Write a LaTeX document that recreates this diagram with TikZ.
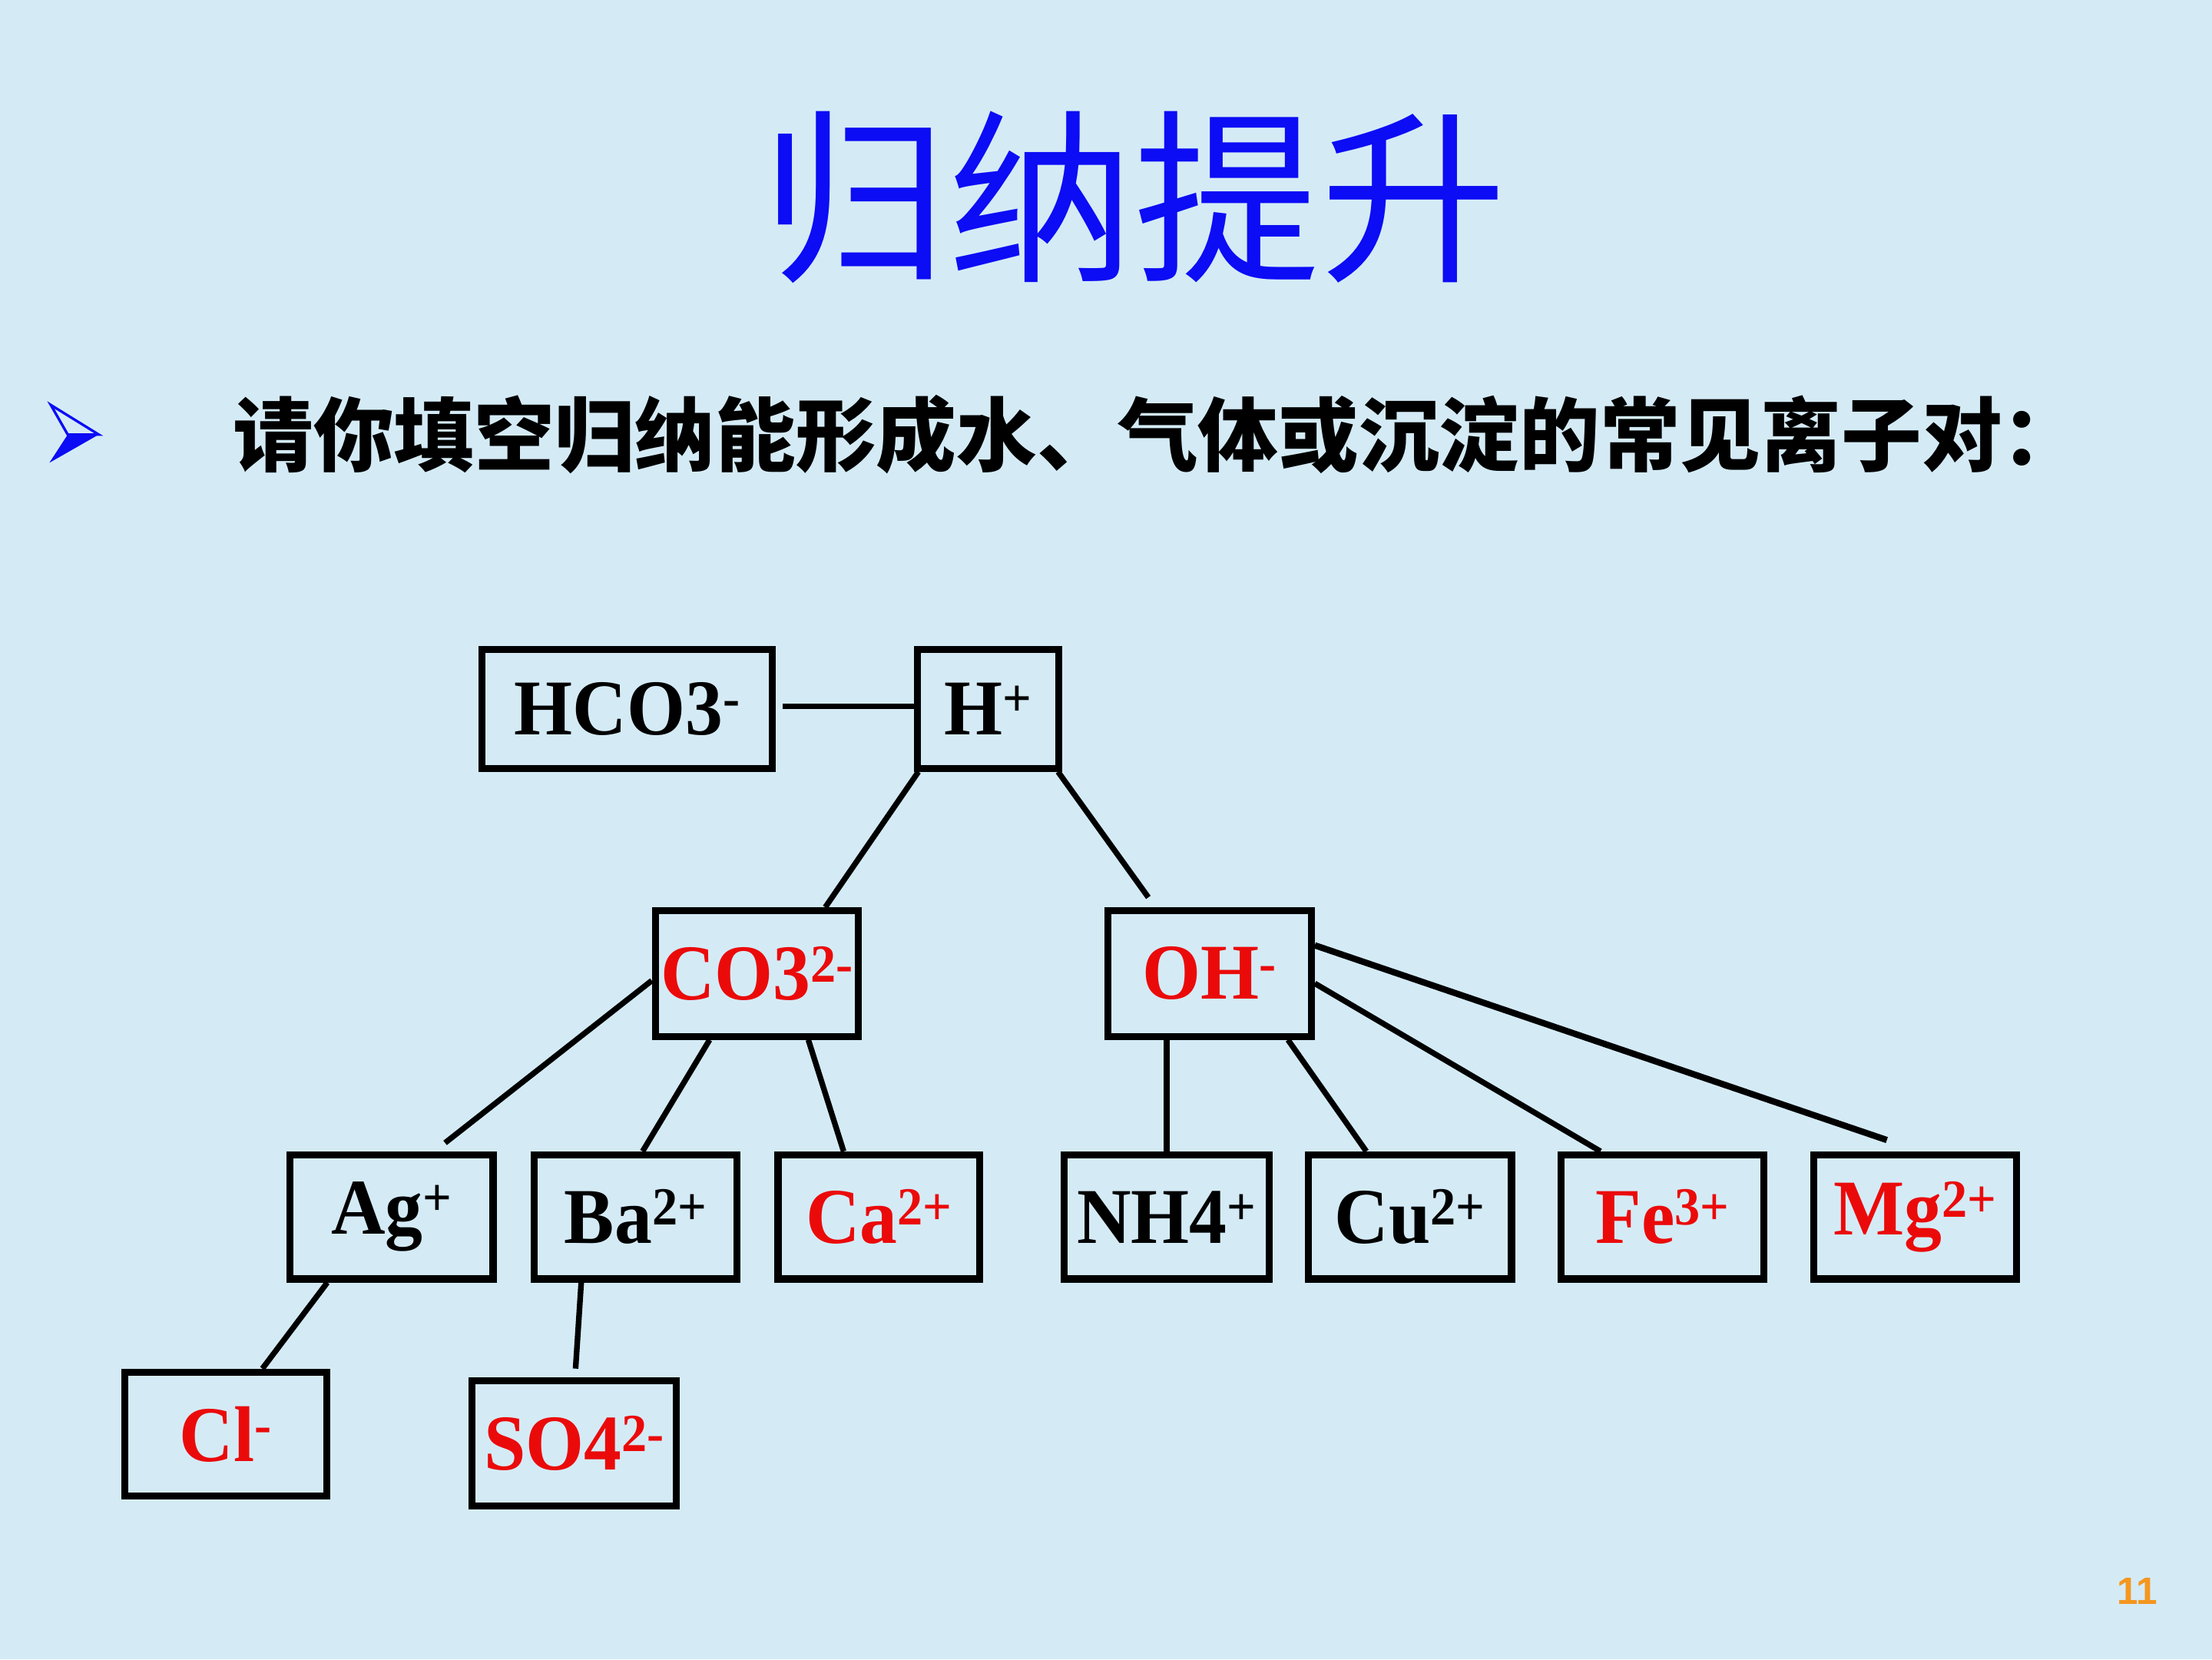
\documentclass[tikz,border=0pt]{standalone}
\usepackage{fontspec}
\setmainfont{Liberation Serif}[FakeStretch=0.95]
\newfontfamily\cjk{Noto Sans CJK SC}
\newfontfamily\pnfont{Liberation Sans}
\usetikzlibrary{calc}
\definecolor{bg}{RGB}{212,235,246}
\definecolor{ttl}{RGB}{12,12,245}
\definecolor{ionred}{RGB}{235,10,10}
\definecolor{pgnum}{RGB}{245,150,30}
\newcommand\ionsup[1]{\raisebox{13pt}{\fontsize{38}{38}\selectfont #1}}
\begin{document}
\begin{tikzpicture}[x=1pt,y=-1pt,
  ion/.style={draw=black,line width=5pt,inner sep=0pt,
    minimum width=144pt,minimum height=88pt,
    font=\fontsize{56}{60}\selectfont\bfseries},
  redion/.style={ion,text=ionred},
  link/.style={draw=black,line width=4pt}]
\fill[bg] (0,0) rectangle (1568,1176);
\useasboundingbox (0,0) rectangle (1568,1176);

% title and prompt
\node[text=ttl,inner sep=0pt] (title) at (804,140) {\cjk\fontsize{132}{140}\selectfont 归纳提升};
\fill[ttl] (48,308) -- (70,308) -- (35,328) -- cycle;
\draw[ttl,line width=1.8pt,line join=miter] (36,287) -- (70,308) -- (48,308) -- cycle;
\node[anchor=west,inner sep=0pt] (prompt) at (165,308)
  {\cjk\bfseries\fontsize{57}{60}\selectfont 请你填空归纳能形成水、气体或沉淀的常见离子对：};

% ion boxes
\node[ion,minimum width=206pt,minimum height=84pt] (hco3) at (444.5,502.5) {HCO3\ionsup{-}};
\node[ion,minimum width=100pt,minimum height=84pt] (hp) at (700.5,502.5) {H\ionsup{+}};
\node[redion,minimum height=89pt] (co3) at (536.5,690) {CO3\ionsup{2-}};
\node[redion,minimum height=89pt] (oh) at (857.5,690) {OH\ionsup{-}};
\node[ion] (ag) at (277.5,862.5) {Ag\ionsup{+}};
\node[ion] (ba) at (450.5,862.5) {Ba\ionsup{2+}};
\node[redion,minimum width=143pt] (ca) at (623,862.5) {Ca\ionsup{2+}};
\node[ion,minimum width=145pt] (nh4) at (827,862.5) {NH4\ionsup{+}};
\node[ion] (cu) at (999.5,862.5) {Cu\ionsup{2+}};
\node[redion] (fe) at (1178.5,862.5) {Fe\ionsup{3+}};
\node[redion] (mg) at (1357.5,862.5) {Mg\ionsup{2+}};
\node[redion,minimum width=143pt] (cl) at (160,1016.5) {Cl\ionsup{-}};
\node[redion,minimum width=145pt,minimum height=89pt] (so4) at (407,1023) {SO4\ionsup{2-}};

% connectors
\draw[link] ($(hco3.east)+(5,-2)$) -- ($(hp.west)+(0,-2)$);
\draw[link] ($(hp.south west)+(3,0)$) -- ($(co3.north west)+(123,0)$);
\draw[link] ($(hp.south east)+(-3,0)$) -- ($(oh.north west)+(31,-7)$);
\draw[link] ($(co3.west)+(0,5)$) -- ($(ag.north)+(38,-6)$);
\draw[link] ($(co3.south west)+(41,0)$) -- ($(ba.north)+(5,0)$);
\draw[link] ($(co3.south west)+(111,0)$) -- ($(ca.north)+(-25,0)$);
\draw[link] ($(oh.south west)+(44,0)$) -- (nh4.north);
\draw[link] ($(oh.south west)+(130,0)$) -- ($(cu.north)+(-31,0)$);
\draw[link] ($(oh.east)+(0,7)$) -- ($(fe.north)+(-44,0)$);
\draw[link,line width=4.5pt] ($(oh.east)+(0,-20)$) -- ($(mg.north)+(-20,-8)$);
\draw[link] ($(ag.south west)+(29,0)$) -- ($(cl.north)+(26,0)$);
\draw[link] ($(ba.south west)+(36,0)$) -- ($(so4.north)+(1,-6)$);

% page number
\node[text=pgnum,inner sep=0pt] (pg) at (1515,1128) {\pnfont\bfseries\fontsize{27}{30}\selectfont 11};
\end{tikzpicture}
\end{document}
